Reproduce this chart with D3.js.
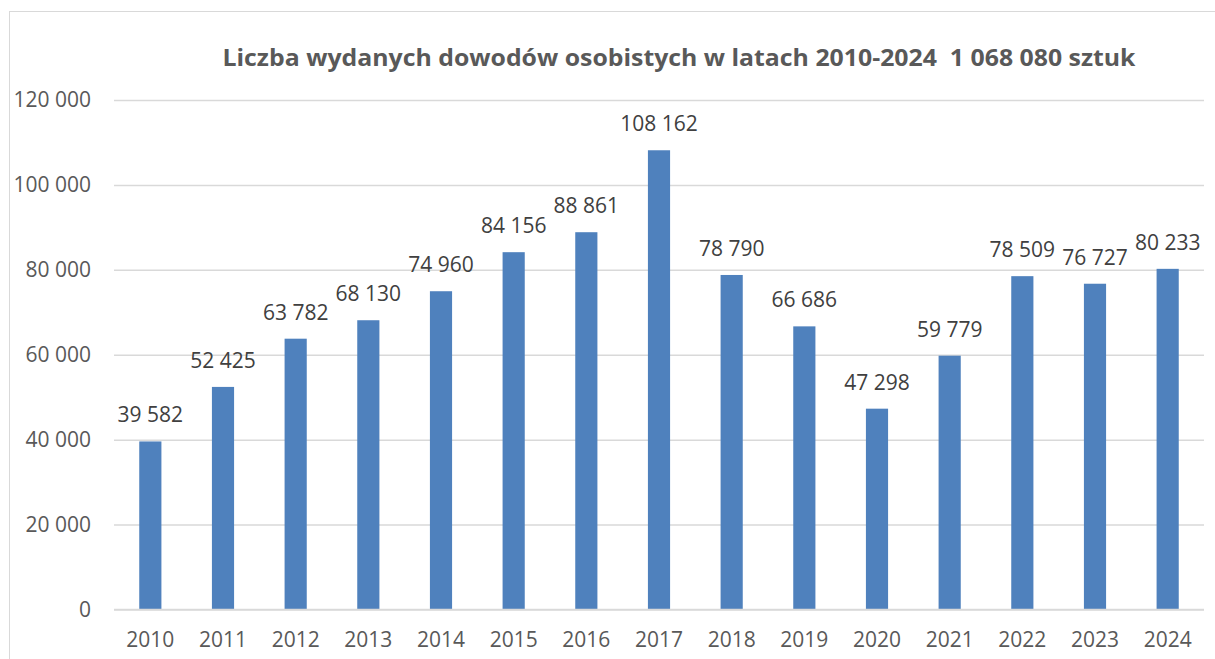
<!DOCTYPE html>
<html>
<head>
<meta charset="utf-8">
<script src="https://cdn.jsdelivr.net/npm/d3@7"></script>
<style>
  body { margin: 0; background: #fff; }
  text { font-family: "Open Sans", sans-serif; }
</style>
</head>
<body>
<script>
// data
var years = ['2010', '2011', '2012', '2013', '2014', '2015', '2016', '2017', '2018', '2019', '2020', '2021', '2022', '2023', '2024'];
var counts = [39582, 52425, 63782, 68130, 74960, 84156, 88861, 108162, 78790, 66686, 47298, 59779, 78509, 76727, 80233];
var yTicks = [0, 20000, 40000, 60000, 80000, 100000, 120000];
var title = 'Liczba wydanych dowodów osobistych w latach 2010-2024  1 068 080 sztuk';

var W = 1215, H = 659;
var margin = {left: 114, right: 11, top: 100, bottom: 49.5};

var pl = d3.formatLocale({decimal: ',', thousands: '\u00a0', grouping: [3], currency: ['', '']});
var fmt = pl.format(',');

var svg = d3.select('body').append('svg')
  .attr('width', W)
  .attr('height', H);

// chart frame (cut off at right and bottom)
svg.append('rect')
  .attr('x', 9.5).attr('y', 11.5)
  .attr('width', W + 20).attr('height', H + 20)
  .attr('fill', 'none')
  .attr('stroke', '#d9d9d9');

var x = d3.scaleBand()
  .domain(years)
  .range([margin.left, W - margin.right])
  .paddingInner(0.695)
  .paddingOuter(0.3475);

var y = d3.scaleLinear()
  .domain([0, 120000])
  .range([H - margin.bottom, margin.top]);

// gridlines + y labels
var yAxis = svg.append('g')
  .attr('transform', 'translate(' + margin.left + ',0)')
  .call(d3.axisLeft(y).tickValues(yTicks).tickFormat(fmt)
    .tickSize(-(W - margin.right - margin.left)).tickPadding(23));
yAxis.select('.domain').remove();
yAxis.selectAll('line').attr('stroke', '#d9d9d9').attr('stroke-width', 1.5);
yAxis.selectAll('text')
  .attr('fill', '#595959')
  .style('font-size', '21px');

// bars
svg.selectAll('rect.bar')
  .data(counts)
  .enter().append('rect')
  .attr('class', 'bar')
  .attr('x', function (d, i) { return x(years[i]); })
  .attr('y', function (d) { return y(d); })
  .attr('width', x.bandwidth())
  .attr('height', function (d) { return y(0) - y(d); })
  .attr('fill', '#4f81bd');

// baseline drawn over bars
svg.append('line')
  .attr('x1', margin.left).attr('x2', W - margin.right)
  .attr('y1', y(0)).attr('y2', y(0))
  .attr('stroke', '#d9d9d9').attr('stroke-width', 1.5);

// x labels
var xAxis = svg.append('g')
  .attr('transform', 'translate(0,' + y(0) + ')')
  .call(d3.axisBottom(x).tickSize(0).tickPadding(23));
xAxis.select('.domain').remove();
xAxis.selectAll('text')
  .attr('fill', '#595959')
  .style('font-size', '21px');

// value labels
svg.selectAll('text.val')
  .data(counts)
  .enter().append('text')
  .attr('class', 'val')
  .attr('x', function (d, i) { return x(years[i]) + x.bandwidth() / 2; })
  .attr('y', function (d) { return y(d) - 19; })
  .attr('text-anchor', 'middle')
  .attr('fill', '#404040')
  .style('font-size', '21px')
  .text(function (d) { return fmt(d); });

// title
svg.append('text')
  .attr('x', 222.5)
  .attr('y', 66)
  .attr('fill', '#595959')
  .style('font-size', '23px')
  .style('font-weight', 'bold')
  .style('white-space', 'pre')
  .attr('textLength', 913)
  .attr('lengthAdjust', 'spacingAndGlyphs')
  .text(title);
</script>
</body>
</html>
